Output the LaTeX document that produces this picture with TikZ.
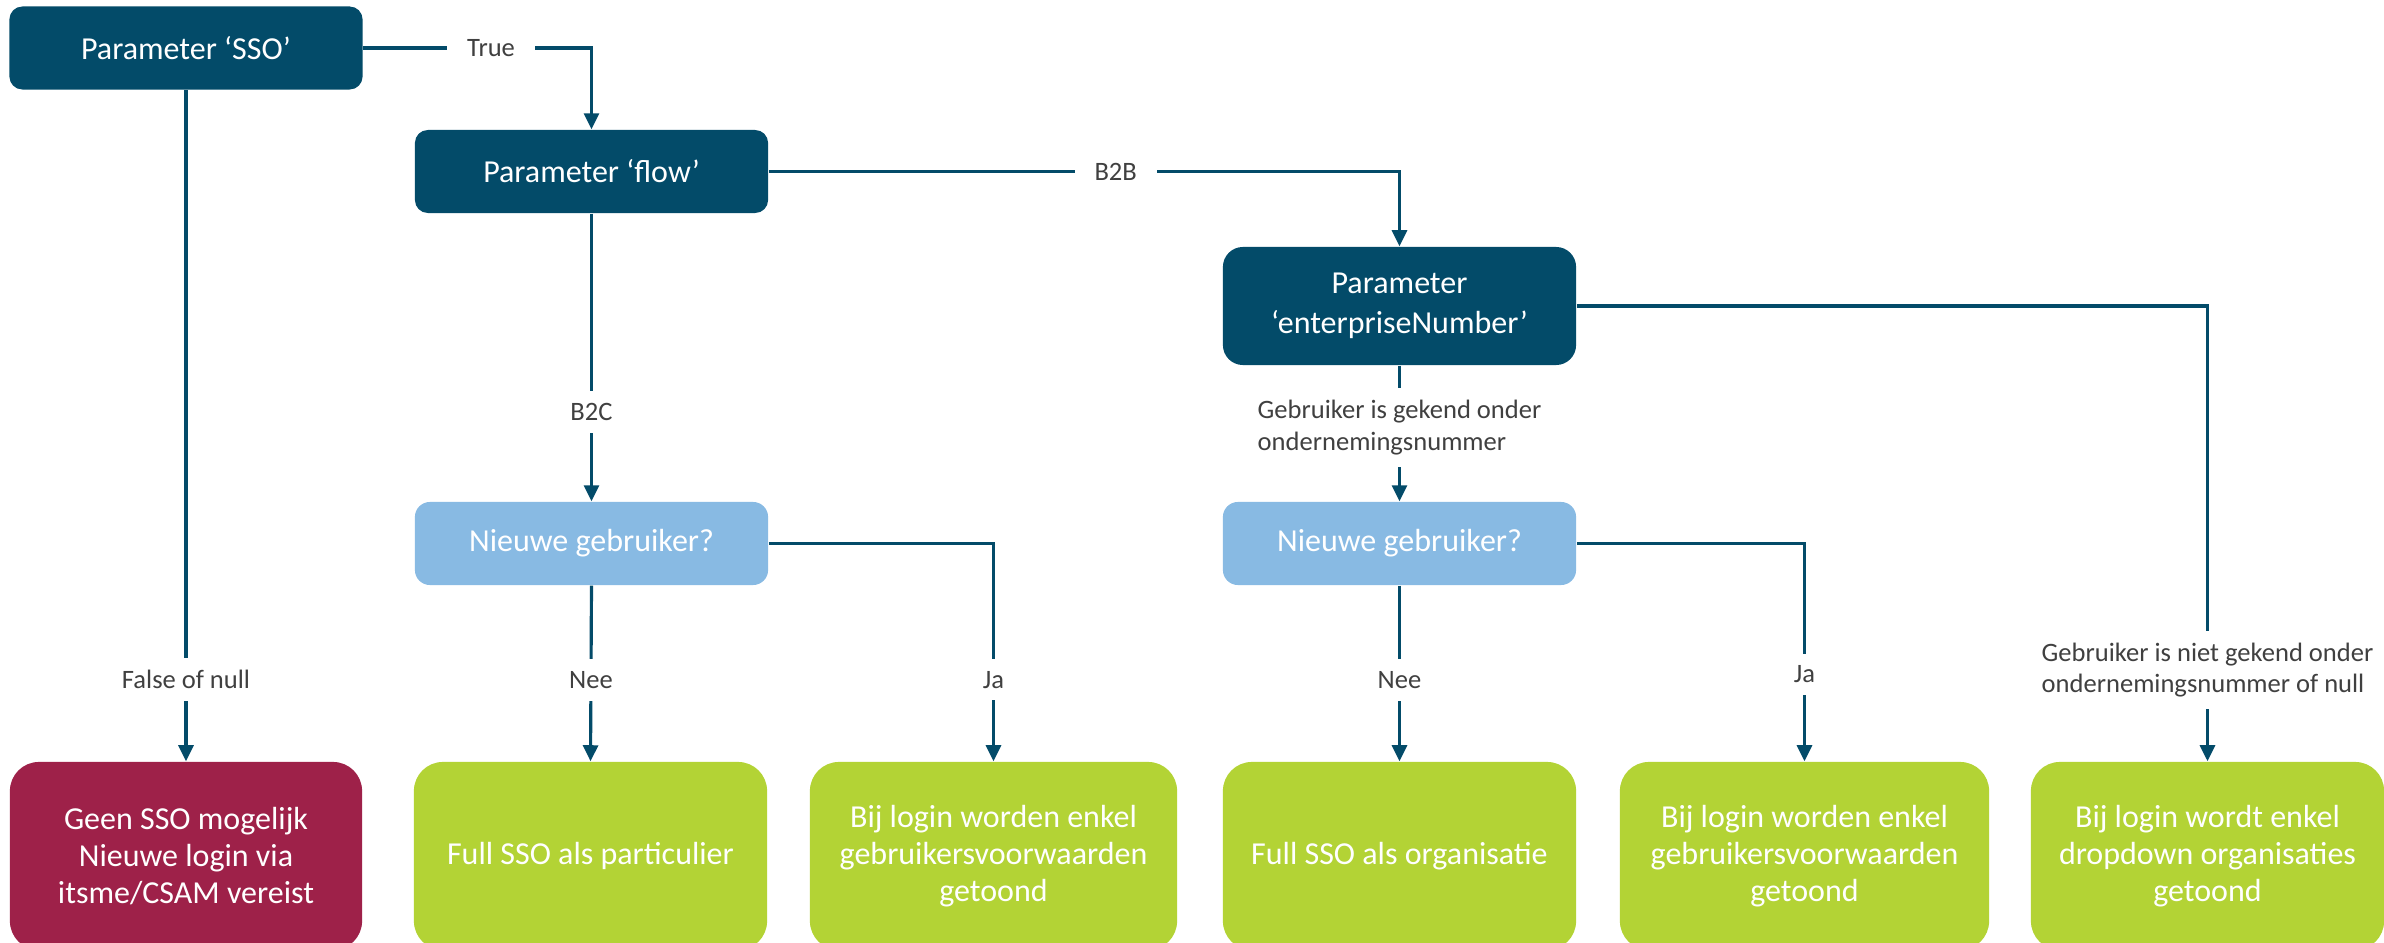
\documentclass[tikz,border=0pt]{standalone}
\usepackage{fontspec}
\setmainfont{Carlito}
\usepackage{xcolor}
\usepackage{tikz}
\usetikzlibrary{arrows.meta}

\definecolor{petrol}{HTML}{034B69}
\definecolor{lichtblauw}{HTML}{88BAE3}
\definecolor{groen}{HTML}{B3D335}
\definecolor{bordeaux}{HTML}{9E2149}
\definecolor{labelgrijs}{HTML}{404040}

\begin{document}
\begin{tikzpicture}[x=0.01cm, y=-0.01cm,
  box/.style={rounded corners=0.13cm, text=white, align=center, inner sep=0pt,
    minimum width=3.53cm, minimum height=0.83cm,
    font=\fontsize{9.1}{10.6}\selectfont},
  param/.style={box, fill=petrol},
  vraag/.style={box, fill=lichtblauw, rounded corners=0.15cm},
  einde/.style={box, fill=groen, rounded corners=0.29cm, minimum height=1.88cm},
  fout/.style={einde, fill=bordeaux},
  pijl/.style={draw=petrol, line width=0.9pt, -{Triangle[length=0.16cm,width=0.15cm]}},
  lbl/.style={fill=white, text=labelgrijs, align=left, inner xsep=0.2cm, inner ysep=0.12cm,
    font=\fontsize{7.55}{8.9}\selectfont}]

% Fix the frame
\path[use as bounding box] (0,0) rectangle (2384,943);
\clip (0,0) rectangle (2384,943);

% Draw the parameter boxes
\node[param] (sso) at (186,48) {Parameter ‘SSO’};
\node[param] (flow) at (591.5,171.5) {Parameter ‘flow’};
\node[param, minimum height=1.18cm, rounded corners=0.2cm,
  font=\fontsize{9.1}{11.4}\selectfont] (ent) at (1399.5,306) {Parameter\\‘enterpriseNumber’};

% Draw the questions
\node[vraag] (nw1) at (591.5,543.5) {Nieuwe gebruiker?};
\node[vraag] (nw2) at (1399.5,543.5) {Nieuwe gebruiker?};

% Draw the results
\node[fout, minimum width=3.52cm] (geen) at (186,856) {Geen SSO mogelijk\\Nieuwe login via\\itsme/CSAM vereist};
\node[einde] (part) at (590.5,856) {Full SSO als particulier};
\node[einde, minimum width=3.67cm] (voorw1) at (993.5,856) {Bij login worden enkel\\gebruikersvoorwaarden\\getoond};
\node[einde] (org) at (1399.5,856) {Full SSO als organisatie};
\node[einde, minimum width=3.69cm] (voorw2) at (1804.5,856) {Bij login worden enkel\\gebruikersvoorwaarden\\getoond};
\node[einde] (dropdown) at (2207.5,856) {Bij login wordt enkel\\dropdown organisaties\\getoond};

% Draw the connectors
\draw[pijl] (sso.east) -- node[lbl, pos=0.56] {True} (sso.east -| flow.north) -- (flow.north);
\draw[pijl] (flow.east) -- node[lbl, pos=0.55] {B2B} (flow.east -| ent.north) -- (ent.north);
\draw[pijl] (ent.east) -| node[lbl, pos=0.9] {Gebruiker is niet gekend onder\\ondernemingsnummer of null} (dropdown.north);
\draw[pijl] (sso.south) -- node[lbl, pos=0.878] {False of null} (geen.north);
\draw[pijl] (flow.south) -- node[lbl, pos=0.69] {B2C} (nw1.north);
\draw[pijl] (ent.south) -- node[lbl, pos=0.456] {Gebruiker is gekend onder\\ondernemingsnummer} (nw2.north);
\draw[pijl] (nw1.south) -- node[lbl, pos=0.537] {Nee} (part.north);
\draw[pijl] (nw1.east) -| node[lbl, pos=0.813] {Ja} (voorw1.north);
\draw[pijl] (nw2.south) -- node[lbl, pos=0.537] {Nee} (org.north);
\draw[pijl] (nw2.east) -| node[lbl, pos=0.8] {Ja} (voorw2.north);

\end{tikzpicture}
\end{document}
